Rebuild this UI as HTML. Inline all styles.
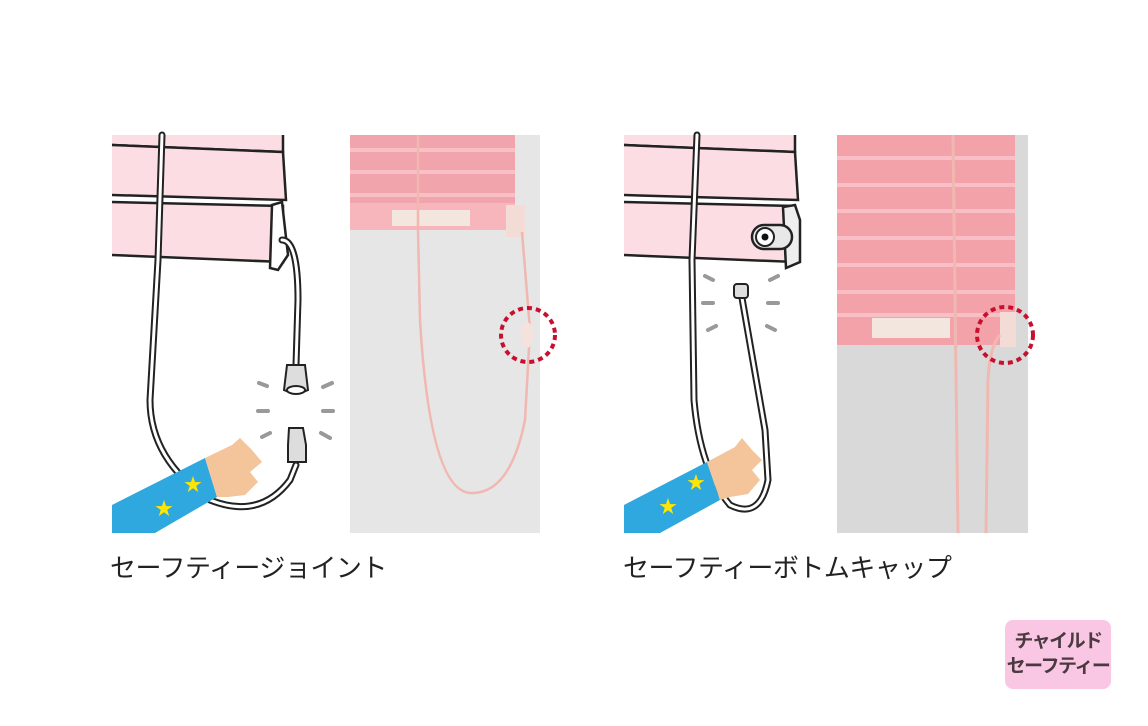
<!DOCTYPE html>
<html><head><meta charset="utf-8"><style>
html,body{margin:0;padding:0;background:#fff;}
body{width:1148px;height:726px;position:relative;overflow:hidden;font-family:"Liberation Sans","Noto Sans CJK JP",sans-serif;}
.lbl{position:absolute;font-size:26px;color:#222;letter-spacing:-0.5px;white-space:nowrap;}
.badge{position:absolute;left:1005px;top:620px;width:106px;height:69px;background:#f9c6e3;border-radius:8px;color:#4a3a40;font-weight:bold;font-size:19px;line-height:25px;text-align:center;padding-top:9px;box-sizing:border-box;letter-spacing:-1.5px;white-space:nowrap;}
</style></head><body>
<svg width="1148" height="726" style="position:absolute;left:0;top:0">
<g fill="#fbdde3"><rect x="112" y="135" width="171" height="12"/><rect x="624" y="135" width="171" height="12"/></g>
<g stroke="#222" stroke-width="2.5" fill="#fbdde3">
<path d="M283 135 L283 152 L112 145"/>
<path d="M112 145 L283 152 L286 200 L112 195"/>
<path d="M112 202 L283 206 L283 262 L112 255"/>
</g>
<path d="M272 205 L282 202 L288 255 L278 270 L270 268 Z" fill="#fff" stroke="#222" stroke-width="2.5"/>
<g fill="none" stroke="#222" stroke-width="7" stroke-linecap="round">
<path d="M162 135 L158 260 L150 400 Q150 460 210 500 Q260 520 290 480 L296 465"/>
<path d="M282 240 Q298 240 298 300 L296 365"/>
</g>
<g fill="none" stroke="#fff" stroke-width="3" stroke-linecap="round">
<path d="M162 135 L158 260 L150 400 Q150 460 210 500 Q260 520 290 480 L296 465"/>
<path d="M282 240 Q298 240 298 300 L296 365"/>
</g>
<path d="M287 365 L305 365 L308 390 Q296 396 284 390 Z" fill="#ddd" stroke="#222" stroke-width="2"/>
<ellipse cx="296" cy="390" rx="9" ry="4" fill="#fff" stroke="#222" stroke-width="2"/>
<path d="M289 428 L303 428 L306 445 L306 462 L288 462 L288 445 Z" fill="#ddd" stroke="#222" stroke-width="2"/>
<g stroke="#999" stroke-width="4" stroke-linecap="round">
<line x1="259" y1="383" x2="267" y2="386"/><line x1="323" y1="387" x2="332" y2="383"/>
<line x1="258" y1="411" x2="268" y2="411"/><line x1="323" y1="411" x2="333" y2="411"/>
<line x1="262" y1="437" x2="270" y2="433"/><line x1="321" y1="433" x2="330" y2="438"/>
</g>
<path d="M112 505 L205 458 L217 497 L155 533 L112 533 Z" fill="#2fa7df"/>
<path d="M205 458 L232 445 L240 438 L252 450 L262 462 L250 472 L258 482 L245 495 L228 497 L217 497 Z" fill="#f4c49a"/>
<g fill="#ffe600" font-size="18"><text x="184" y="491">★</text><text x="155" y="515">★</text></g>
<rect x="350" y="135" width="190" height="398" fill="#e6e6e6"/>
<rect x="350" y="135" width="165" height="95" fill="#f2a4ac"/>
<g stroke="#f8bfc5" stroke-width="4"><line x1="350" y1="150" x2="515" y2="150"/><line x1="350" y1="172" x2="515" y2="172"/><line x1="350" y1="195" x2="515" y2="195"/></g>
<rect x="350" y="203" width="165" height="27" fill="#f6b6bc"/>
<rect x="392" y="210" width="78" height="16" fill="#f3e6df"/>
<rect x="506" y="205" width="19" height="32" fill="#f4dcd6"/>
<g fill="none" stroke="#f0b8b0" stroke-width="2.5">
<path d="M418 135 L418 230 L420 320 Q430 490 470 493 Q510 495 525 420 L530 330 L522 232"/>
</g>
<ellipse cx="527" cy="335" rx="6" ry="13" fill="#f6e2dc"/>
<circle cx="528" cy="335" r="27" fill="none" stroke="#c8102e" stroke-width="4" stroke-dasharray="5 4"/>
<g stroke="#222" stroke-width="2.5" fill="#fbdde3">
<path d="M795 135 L795 152 L624 145"/>
<path d="M624 145 L795 152 L798 200 L624 195"/>
<path d="M624 202 L795 206 L795 262 L624 255"/>
</g>
<path d="M783 207 L795 205 L800 220 L800 262 L786 268 Z" fill="#eee" stroke="#222" stroke-width="2.5"/>
<rect x="752" y="225" width="40" height="24" rx="12" fill="#e8e8e8" stroke="#222" stroke-width="2.5"/>
<circle cx="765" cy="237" r="9" fill="#fff" stroke="#222" stroke-width="2"/><circle cx="765" cy="237" r="3.5" fill="#111"/>
<g fill="none" stroke="#222" stroke-width="7" stroke-linecap="round">
<path d="M697 135 L692 260 L694 400 Q700 470 730 505 Q760 520 768 480 L765 430 L742 298"/>
</g>
<g fill="none" stroke="#fff" stroke-width="3" stroke-linecap="round">
<path d="M697 135 L692 260 L694 400 Q700 470 730 505 Q760 520 768 480 L765 430 L742 298"/>
</g>
<rect x="734" y="284" width="14" height="14" rx="3" fill="#ddd" stroke="#222" stroke-width="2"/>
<g stroke="#999" stroke-width="4" stroke-linecap="round">
<line x1="705" y1="276" x2="713" y2="280"/><line x1="770" y1="280" x2="778" y2="276"/>
<line x1="703" y1="303" x2="713" y2="303"/><line x1="768" y1="303" x2="778" y2="303"/>
<line x1="708" y1="330" x2="716" y2="326"/><line x1="767" y1="326" x2="775" y2="330"/>
</g>
<path d="M624 505 L707 462 L720 500 L660 533 L624 533 Z" fill="#2fa7df"/>
<path d="M707 462 L735 447 L742 438 L752 450 L762 460 L752 470 L760 480 L748 494 L730 497 L720 500 Z" fill="#f4c49a"/>
<g fill="#ffe600" font-size="18"><text x="687" y="489">★</text><text x="659" y="513">★</text></g>
<rect x="837" y="135" width="191" height="398" fill="#d9d9d9"/>
<rect x="837" y="135" width="178" height="210" fill="#f3a2aa"/>
<g stroke="#f8c0c6" stroke-width="4">
<line x1="837" y1="158" x2="1015" y2="158"/><line x1="837" y1="185" x2="1015" y2="185"/><line x1="837" y1="211" x2="1015" y2="211"/>
<line x1="837" y1="238" x2="1015" y2="238"/><line x1="837" y1="265" x2="1015" y2="265"/><line x1="837" y1="292" x2="1015" y2="292"/><line x1="837" y1="315" x2="1015" y2="315"/>
</g>
<rect x="872" y="318" width="78" height="20" fill="#f3e6df"/>
<rect x="1000" y="312" width="16" height="35" fill="#f4dcd6"/>
<g fill="none" stroke="#f0b8b0" stroke-width="3">
<line x1="953" y1="135" x2="958" y2="533"/>
<path d="M1000 335 Q990 345 988 380 L986 533"/>
</g>
<circle cx="1005" cy="335" r="28" fill="none" stroke="#c8102e" stroke-width="4" stroke-dasharray="5 4"/>
</svg>
<div class="lbl" style="left:110px;top:548px;">セーフティージョイント</div>
<div class="lbl" style="left:623px;top:548px;">セーフティーボトムキャップ</div>
<div class="badge">チャイルド<br>セーフティー</div>
</body></html>
